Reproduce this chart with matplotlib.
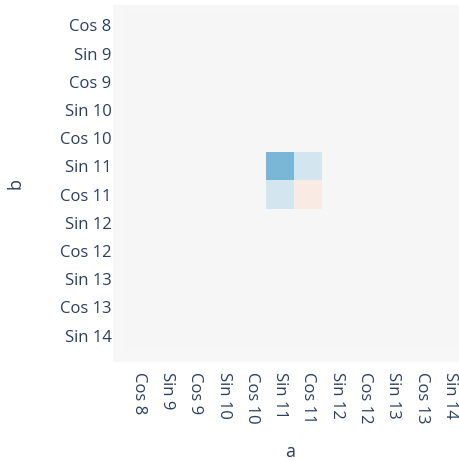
import matplotlib.pyplot as plt
import numpy as np

plt.rcParams['font.family'] = ['Open Sans', 'DejaVu Sans']

labels = ['Cos 8', 'Sin 9', 'Cos 9', 'Sin 10', 'Cos 10', 'Sin 11',
          'Cos 11', 'Sin 12', 'Cos 12', 'Sin 13', 'Cos 13', 'Sin 14']

# nonzero entries of the (symmetric) matrix, everything else is zero
sin11_sin11 = 0.46
sin11_cos11 = 0.18
cos11_cos11 = -0.085
sin12_sin11 = 0.006

n = len(labels)
z = np.zeros((n, n))
i_s, i_c, i_s12 = labels.index('Sin 11'), labels.index('Cos 11'), labels.index('Sin 12')
z[i_s, i_s] = sin11_sin11
z[i_s, i_c] = sin11_cos11
z[i_c, i_s] = sin11_cos11
z[i_c, i_c] = cos11_cos11
z[i_s12, i_s] = sin12_sin11

txt = '#2a3f5f'
W, H = 459, 461
fig = plt.figure(figsize=(W / 100, H / 100), dpi=100)
ax = fig.add_axes([113 / W, (H - 362) / H, (459 - 113) / W, (362 - 5) / H])
ax.set_facecolor('#f7f7f7')
ax.imshow(z, cmap='RdBu', vmin=-1, vmax=1, aspect='auto', interpolation='nearest')
ax.set_xlim(-0.906, 11.32)
ax.set_ylim(11.936, -0.723)

ax.set_xticks(range(n))
ax.set_xticklabels(labels, rotation=-90, fontsize=12, color=txt)
ax.set_yticks(range(n))
ax.set_yticklabels(labels, fontsize=12, color=txt)
ax.tick_params(length=0)
ax.tick_params(axis='x', pad=7)
ax.tick_params(axis='y', pad=1)
for s in ax.spines.values():
    s.set_visible(False)

fig.text(290 / W, 1 - 452 / H, 'a', ha='center', va='center', fontsize=13, color=txt)
fig.text(15 / W, 1 - 183 / H, 'b', ha='center', va='center', rotation=90, fontsize=13, color=txt)

fig.savefig('out.png', dpi=100, facecolor='white')
